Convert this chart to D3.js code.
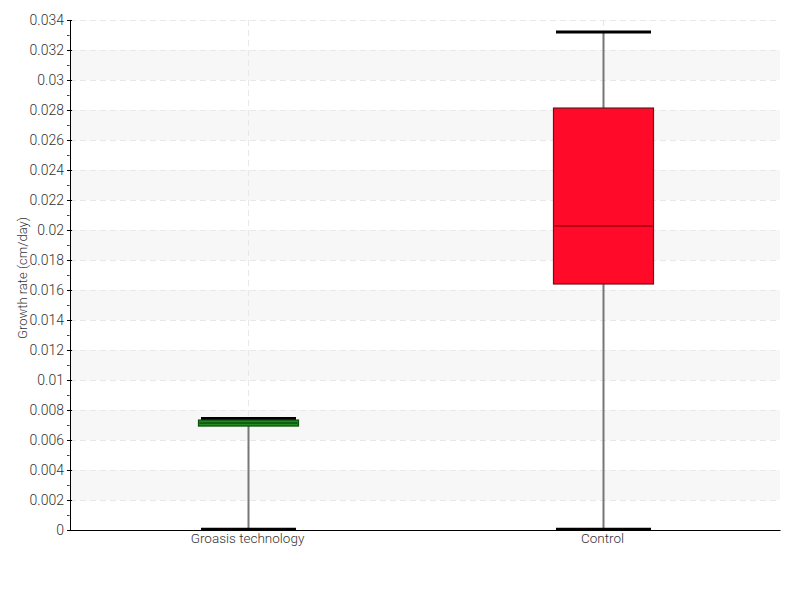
<!DOCTYPE html>
<html>
<head>
<meta charset="utf-8">
<script src="https://cdn.jsdelivr.net/npm/d3@7"></script>
<style>
  body { margin: 0; background: #fff; }
  text { font-family: Roboto, "Open Sans", sans-serif; font-weight: 300; fill: #333; }
</style>
</head>
<body>
<svg id="chart"></svg>
<script>
// box plot values (cm/day)
const categories = ['Groasis technology', 'Control']
const whiskerLow = [0.00005, 0.00005]
const q1 = [0.00693, 0.0164]
const median = [0.00713, 0.02027]
const q3 = [0.00733, 0.02813]
const whiskerHigh = [0.00743, 0.0332]
const fills = ['#1e8c1e', '#ff0a28']
const strokes = ['#0d4f0d', '#6e1018']
const medianColors = ['#0d4f0d', '#a00015']
const yTicks = d3.range(0, 0.0341, 0.002)

const svgWidth = 800, svgHeight = 600
const margin = { top: 20, right: 20, bottom: 70, left: 70 }
const width = svgWidth - margin.left - margin.right
const height = svgHeight - margin.top - margin.bottom

const svg = d3.select('#chart')
    .attr('width', svgWidth)
    .attr('height', svgHeight)

const g = svg.append('g')
    .attr('transform', 'translate(' + margin.left + ',' + margin.top + ')')

const x = d3.scaleBand().domain(categories).range([0, width])
const y = d3.scaleLinear().domain([0, 0.034]).range([height, 0])

// alternating bands
const bands = yTicks.filter((d, i) => i % 2 === 1 && i < yTicks.length - 1)
g.selectAll('.band').data(bands).enter().append('rect')
    .attr('x', 0)
    .attr('width', width)
    .attr('y', d => y(d + 0.002))
    .attr('height', d => y(d) - y(d + 0.002))
    .attr('fill', '#f7f7f7')

// horizontal grid
g.selectAll('.hgrid').data(yTicks.slice(1)).enter().append('line')
    .attr('x1', 0).attr('x2', width - 3)
    .attr('y1', d => Math.round(y(d)) + 0.5)
    .attr('y2', d => Math.round(y(d)) + 0.5)
    .attr('stroke', '#e8e8e8')
    .attr('stroke-dasharray', '6,4')

// vertical grid at categories
g.selectAll('.vgrid').data(categories).enter().append('line')
    .attr('x1', d => Math.round(x(d) + x.bandwidth() / 2) + 0.5)
    .attr('x2', d => Math.round(x(d) + x.bandwidth() / 2) + 0.5)
    .attr('y1', 0).attr('y2', height)
    .attr('stroke', '#e8e8e8')
    .attr('stroke-dasharray', '6,4')

// y axis
const yAxis = g.append('g')
    .call(d3.axisLeft(y).tickValues(yTicks).tickFormat(d => +d.toFixed(3) + '').tickSizeInner(3).tickSizeOuter(0))
yAxis.select('.domain').attr('stroke', '#000')
yAxis.selectAll('.tick line').attr('x1', 2).attr('stroke', '#000')
yAxis.selectAll('.tick text').attr('x', -6).style('font-size', '14px')

// minor ticks
g.selectAll('.minor').data(yTicks.slice(0, -1).map(d => d + 0.001)).enter().append('line')
    .attr('x1', -3).attr('x2', -0.5)
    .attr('y1', d => Math.round(y(d)) + 0.5)
    .attr('y2', d => Math.round(y(d)) + 0.5)
    .attr('stroke', '#e00000')

// x axis
const xAxis = g.append('g')
    .attr('transform', 'translate(0,' + height + ')')
    .call(d3.axisBottom(x).tickSize(0))
xAxis.select('.domain').attr('stroke', '#000')
xAxis.selectAll('.tick text').attr('dy', '0.32em').attr('y', 9).style('font-size', '13.5px')

// y title
svg.append('text')
    .attr('transform', 'translate(27,' + (margin.top + height / 2 + 3) + ') rotate(-90)')
    .attr('text-anchor', 'middle')
    .style('font-size', '13px')
    .text('Growth rate (cm/day)')

// boxes
const boxW = 100, capW = 95
categories.forEach(function(c, i) {
    const cx = Math.round(x(c) + x.bandwidth() / 2) + 0.5
    const box = g.append('g')

    box.append('line')
        .attr('x1', cx).attr('x2', cx)
        .attr('y1', y(whiskerLow[i])).attr('y2', y(whiskerHigh[i]))
        .attr('stroke', '#777')
        .attr('stroke-width', 2)

    ;[whiskerLow[i], whiskerHigh[i]].forEach(function(v) {
        box.append('line')
            .attr('x1', cx - capW / 2).attr('x2', cx + capW / 2)
            .attr('y1', y(v)).attr('y2', y(v))
            .attr('stroke', '#000')
            .attr('stroke-width', 3)
    })

    box.append('rect')
        .attr('x', cx - boxW / 2)
        .attr('width', boxW)
        .attr('y', y(q3[i]))
        .attr('height', y(q1[i]) - y(q3[i]))
        .attr('fill', fills[i])
        .attr('stroke', strokes[i])
        .attr('stroke-width', 1.2)

    box.append('line')
        .attr('x1', cx - boxW / 2 + 1).attr('x2', cx + boxW / 2 - 1)
        .attr('y1', y(median[i])).attr('y2', y(median[i]))
        .attr('stroke', medianColors[i])
        .attr('stroke-width', 1.5)
})
</script>
</body>
</html>
